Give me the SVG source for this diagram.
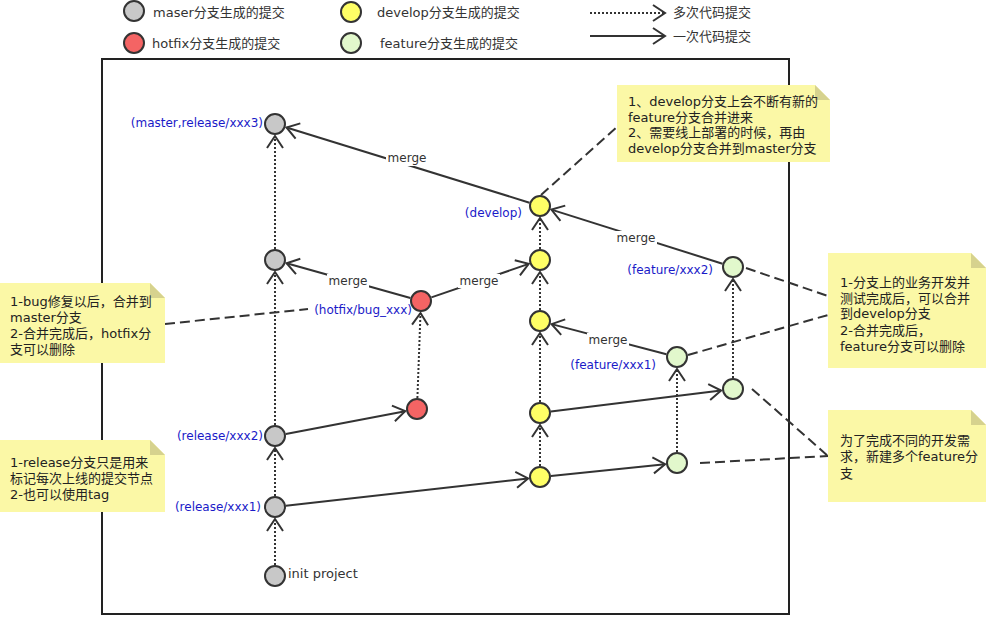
<svg xmlns="http://www.w3.org/2000/svg" width="987" height="617" viewBox="0 0 987 617">
<style>
text{font-family:"DejaVu Sans","Noto Sans CJK SC",sans-serif;}
.lg{font-size:13px;fill:#333;dominant-baseline:middle;}
.nt{font-size:13px;fill:#222;}
.bl{font-size:12px;fill:#1a1ac8;}
.mg{font-size:12px;fill:#333;text-anchor:middle;}
.dot{stroke:#333;stroke-width:2;stroke-dasharray:2 2;fill:none;marker-end:url(#arr);}
.sol{stroke:#333;stroke-width:2;fill:none;marker-end:url(#arr);}
.dash{stroke:#333;stroke-width:2;stroke-dasharray:10 5;fill:none;}
.n{stroke:#333;stroke-width:2;}
.gray{fill:#c8c8c8;}
.red{fill:#f46464;}
.yel{fill:#ffff66;}
.grn{fill:#e2f8cc;}
.note{fill:#fbf8a6;}
.fold{fill:#d6d28e;}
.bg{fill:#fff;}
</style>
<defs>
<marker id="arr" viewBox="-14 -10 16 20" refX="0" refY="0" markerWidth="16" markerHeight="20" markerUnits="userSpaceOnUse" orient="auto">
<path d="M-12,-8 L0,0 L-12,8" fill="none" stroke="#333" stroke-width="2" stroke-dasharray="none"/>
</marker>
</defs>
<rect width="987" height="617" fill="#fff"/>
<rect id="frame" x="102" y="59" width="687" height="555" fill="none" stroke="#222" stroke-width="2"/>

<g id="legend">
<circle class="n gray" cx="134" cy="11" r="10"/>
<text class="lg" x="153" y="13">maser分支生成的提交</text>
<circle class="n red" cx="134" cy="43" r="10"/>
<text class="lg" x="152" y="44">hotfix分支生成的提交</text>
<circle class="n yel" cx="351" cy="12" r="10"/>
<text class="lg" x="377" y="13">develop分支生成的提交</text>
<circle class="n grn" cx="351" cy="43" r="10"/>
<text class="lg" x="380" y="44">feature分支生成的提交</text>
<line class="dot" x1="590" y1="13" x2="665" y2="13"/>
<text class="lg" x="673" y="13">多次代码提交</text>
<line class="sol" x1="590" y1="36" x2="665" y2="36"/>
<text class="lg" x="673" y="37">一次代码提交</text>
</g>

<g id="connectors">
<line class="dot" x1="275" y1="565" x2="275" y2="519"/>
<line class="dot" x1="275" y1="496" x2="275" y2="448"/>
<line class="dot" x1="275" y1="425" x2="275" y2="272"/>
<line class="dot" x1="275" y1="249" x2="275" y2="136"/>
<line class="dot" x1="540" y1="466" x2="540" y2="425"/>
<line class="dot" x1="540" y1="402" x2="540" y2="333"/>
<line class="dot" x1="540" y1="310" x2="540" y2="272"/>
<line class="dot" x1="540" y1="249" x2="540" y2="218"/>
<line class="dot" x1="677" y1="452" x2="677" y2="369"/>
<line class="dot" x1="733" y1="378" x2="733" y2="279"/>
<line class="dot" x1="417.4" y1="398" x2="420.5" y2="313"/>
<line class="sol" x1="285.9" y1="505.8" x2="528.1" y2="478.4"/>
<line class="sol" x1="285.8" y1="433.9" x2="405.2" y2="411.2"/>
<line class="sol" x1="410.4" y1="298" x2="286.6" y2="263.2"/>
<line class="sol" x1="431.4" y1="297.4" x2="528.7" y2="263.9"/>
<line class="sol" x1="550.9" y1="475.9" x2="665.1" y2="464.2"/>
<line class="sol" x1="550.9" y1="411.6" x2="721.1" y2="390.5"/>
<line class="sol" x1="666.4" y1="354.2" x2="551.6" y2="324.1"/>
<line class="sol" x1="722.5" y1="263.7" x2="551.4" y2="209.6"/>
<line class="sol" x1="529.5" y1="202.7" x2="286.5" y2="127.5"/>
<rect class="bg" x="386" y="152" width="42" height="14"/>
<text class="mg" x="407" y="162">merge</text>
<rect class="bg" x="327" y="274" width="42" height="14"/>
<text class="mg" x="348" y="285">merge</text>
<rect class="bg" x="458" y="274" width="42" height="14"/>
<text class="mg" x="479" y="285">merge</text>
<rect class="bg" x="615" y="231" width="42" height="14"/>
<text class="mg" x="636" y="242">merge</text>
<rect class="bg" x="587" y="333" width="42" height="14"/>
<text class="mg" x="608" y="344">merge</text>
<line class="dash" x1="541" y1="195" x2="617" y2="127"/>
<line class="dash" x1="165" y1="324" x2="308" y2="309"/>
<line class="dash" x1="746" y1="268" x2="828" y2="296"/>
<line class="dash" x1="688" y1="355" x2="828" y2="315"/>
<line class="dash" x1="752" y1="389" x2="828" y2="456"/>
<line class="dash" x1="700" y1="463" x2="828" y2="456"/>
</g>

<g id="node-m3"><circle class="n gray" cx="275" cy="124" r="10"/><text class="bl" x="263" y="127" text-anchor="end">(master,release/xxx3)</text></g>
<g id="node-m2"><circle class="n gray" cx="275" cy="260" r="10"/></g>
<g id="node-r2"><circle class="n gray" cx="275" cy="436" r="10"/><text class="bl" x="263" y="440" text-anchor="end">(release/xxx2)</text></g>
<g id="node-r1"><circle class="n gray" cx="275" cy="507" r="10"/><text class="bl" x="261" y="511" text-anchor="end">(release/xxx1)</text></g>
<g id="node-init"><circle class="n gray" cx="275" cy="576" r="10"/><text class="mg" x="288" y="578" style="text-anchor:start;font-size:13px">init project</text></g>
<g id="node-h2"><circle class="n red" cx="421" cy="301" r="10"/><text class="bl" x="412" y="314" text-anchor="end">(hotfix/bug_xxx)</text></g>
<g id="node-h1"><circle class="n red" cx="417" cy="409" r="10"/></g>
<g id="node-d5"><circle class="n yel" cx="540" cy="206" r="10"/><text class="bl" x="522" y="217" text-anchor="end">(develop)</text></g>
<g id="node-d4"><circle class="n yel" cx="540" cy="260" r="10"/></g>
<g id="node-d3"><circle class="n yel" cx="540" cy="321" r="10"/></g>
<g id="node-d2"><circle class="n yel" cx="540" cy="413" r="10"/></g>
<g id="node-d1"><circle class="n yel" cx="540" cy="477" r="10"/></g>
<g id="node-f2b"><circle class="n grn" cx="733" cy="267" r="10"/><text class="bl" x="713" y="274" text-anchor="end">(feature/xxx2)</text></g>
<g id="node-f2a"><circle class="n grn" cx="733" cy="389" r="10"/></g>
<g id="node-f1b"><circle class="n grn" cx="677" cy="357" r="10"/><text class="bl" x="656" y="369" text-anchor="end">(feature/xxx1)</text></g>
<g id="node-f1a"><circle class="n grn" cx="677" cy="463" r="10"/></g>

<g id="note-develop">
<polygon class="note" points="617,85 815,85 830,100 830,162 617,162"/>
<polygon class="fold" points="815,85 830,100 815,100"/>
<text class="nt" x="628" y="106">1、develop分支上会不断有新的</text>
<text class="nt" x="628" y="122">feature分支合并进来</text>
<text class="nt" x="628" y="137">2、需要线上部署的时候，再由</text>
<text class="nt" x="628" y="153">develop分支合并到master分支</text>
</g>
<g id="note-hotfix">
<polygon class="note" points="0,283 150,283 165,298 165,363 0,363"/>
<polygon class="fold" points="150,283 165,298 150,298"/>
<text class="nt" x="10" y="306">1-bug修复以后，合并到</text>
<text class="nt" x="10" y="322">master分支</text>
<text class="nt" x="10" y="338">2-合并完成后，hotfix分</text>
<text class="nt" x="10" y="354">支可以删除</text>
</g>
<g id="note-feature">
<polygon class="note" points="828,253 971,253 986,268 986,368 828,368"/>
<polygon class="fold" points="971,253 986,268 971,268"/>
<text class="nt" x="840" y="287">1-分支上的业务开发并</text>
<text class="nt" x="840" y="303">测试完成后，可以合并</text>
<text class="nt" x="840" y="318">到develop分支</text>
<text class="nt" x="840" y="335">2-合并完成后，</text>
<text class="nt" x="840" y="351">feature分支可以删除</text>
</g>
<g id="note-release">
<polygon class="note" points="0,440 150,440 165,455 165,512 0,512"/>
<polygon class="fold" points="150,440 165,455 150,455"/>
<text class="nt" x="10" y="467">1-release分支只是用来</text>
<text class="nt" x="10" y="483">标记每次上线的提交节点</text>
<text class="nt" x="10" y="499">2-也可以使用tag</text>
</g>
<g id="note-new">
<polygon class="note" points="828,410 971,410 986,425 986,502 828,502"/>
<polygon class="fold" points="971,410 986,425 971,425"/>
<text class="nt" x="840" y="445">为了完成不同的开发需</text>
<text class="nt" x="840" y="461">求，新建多个feature分</text>
<text class="nt" x="840" y="478">支</text>
</g>
</svg>
